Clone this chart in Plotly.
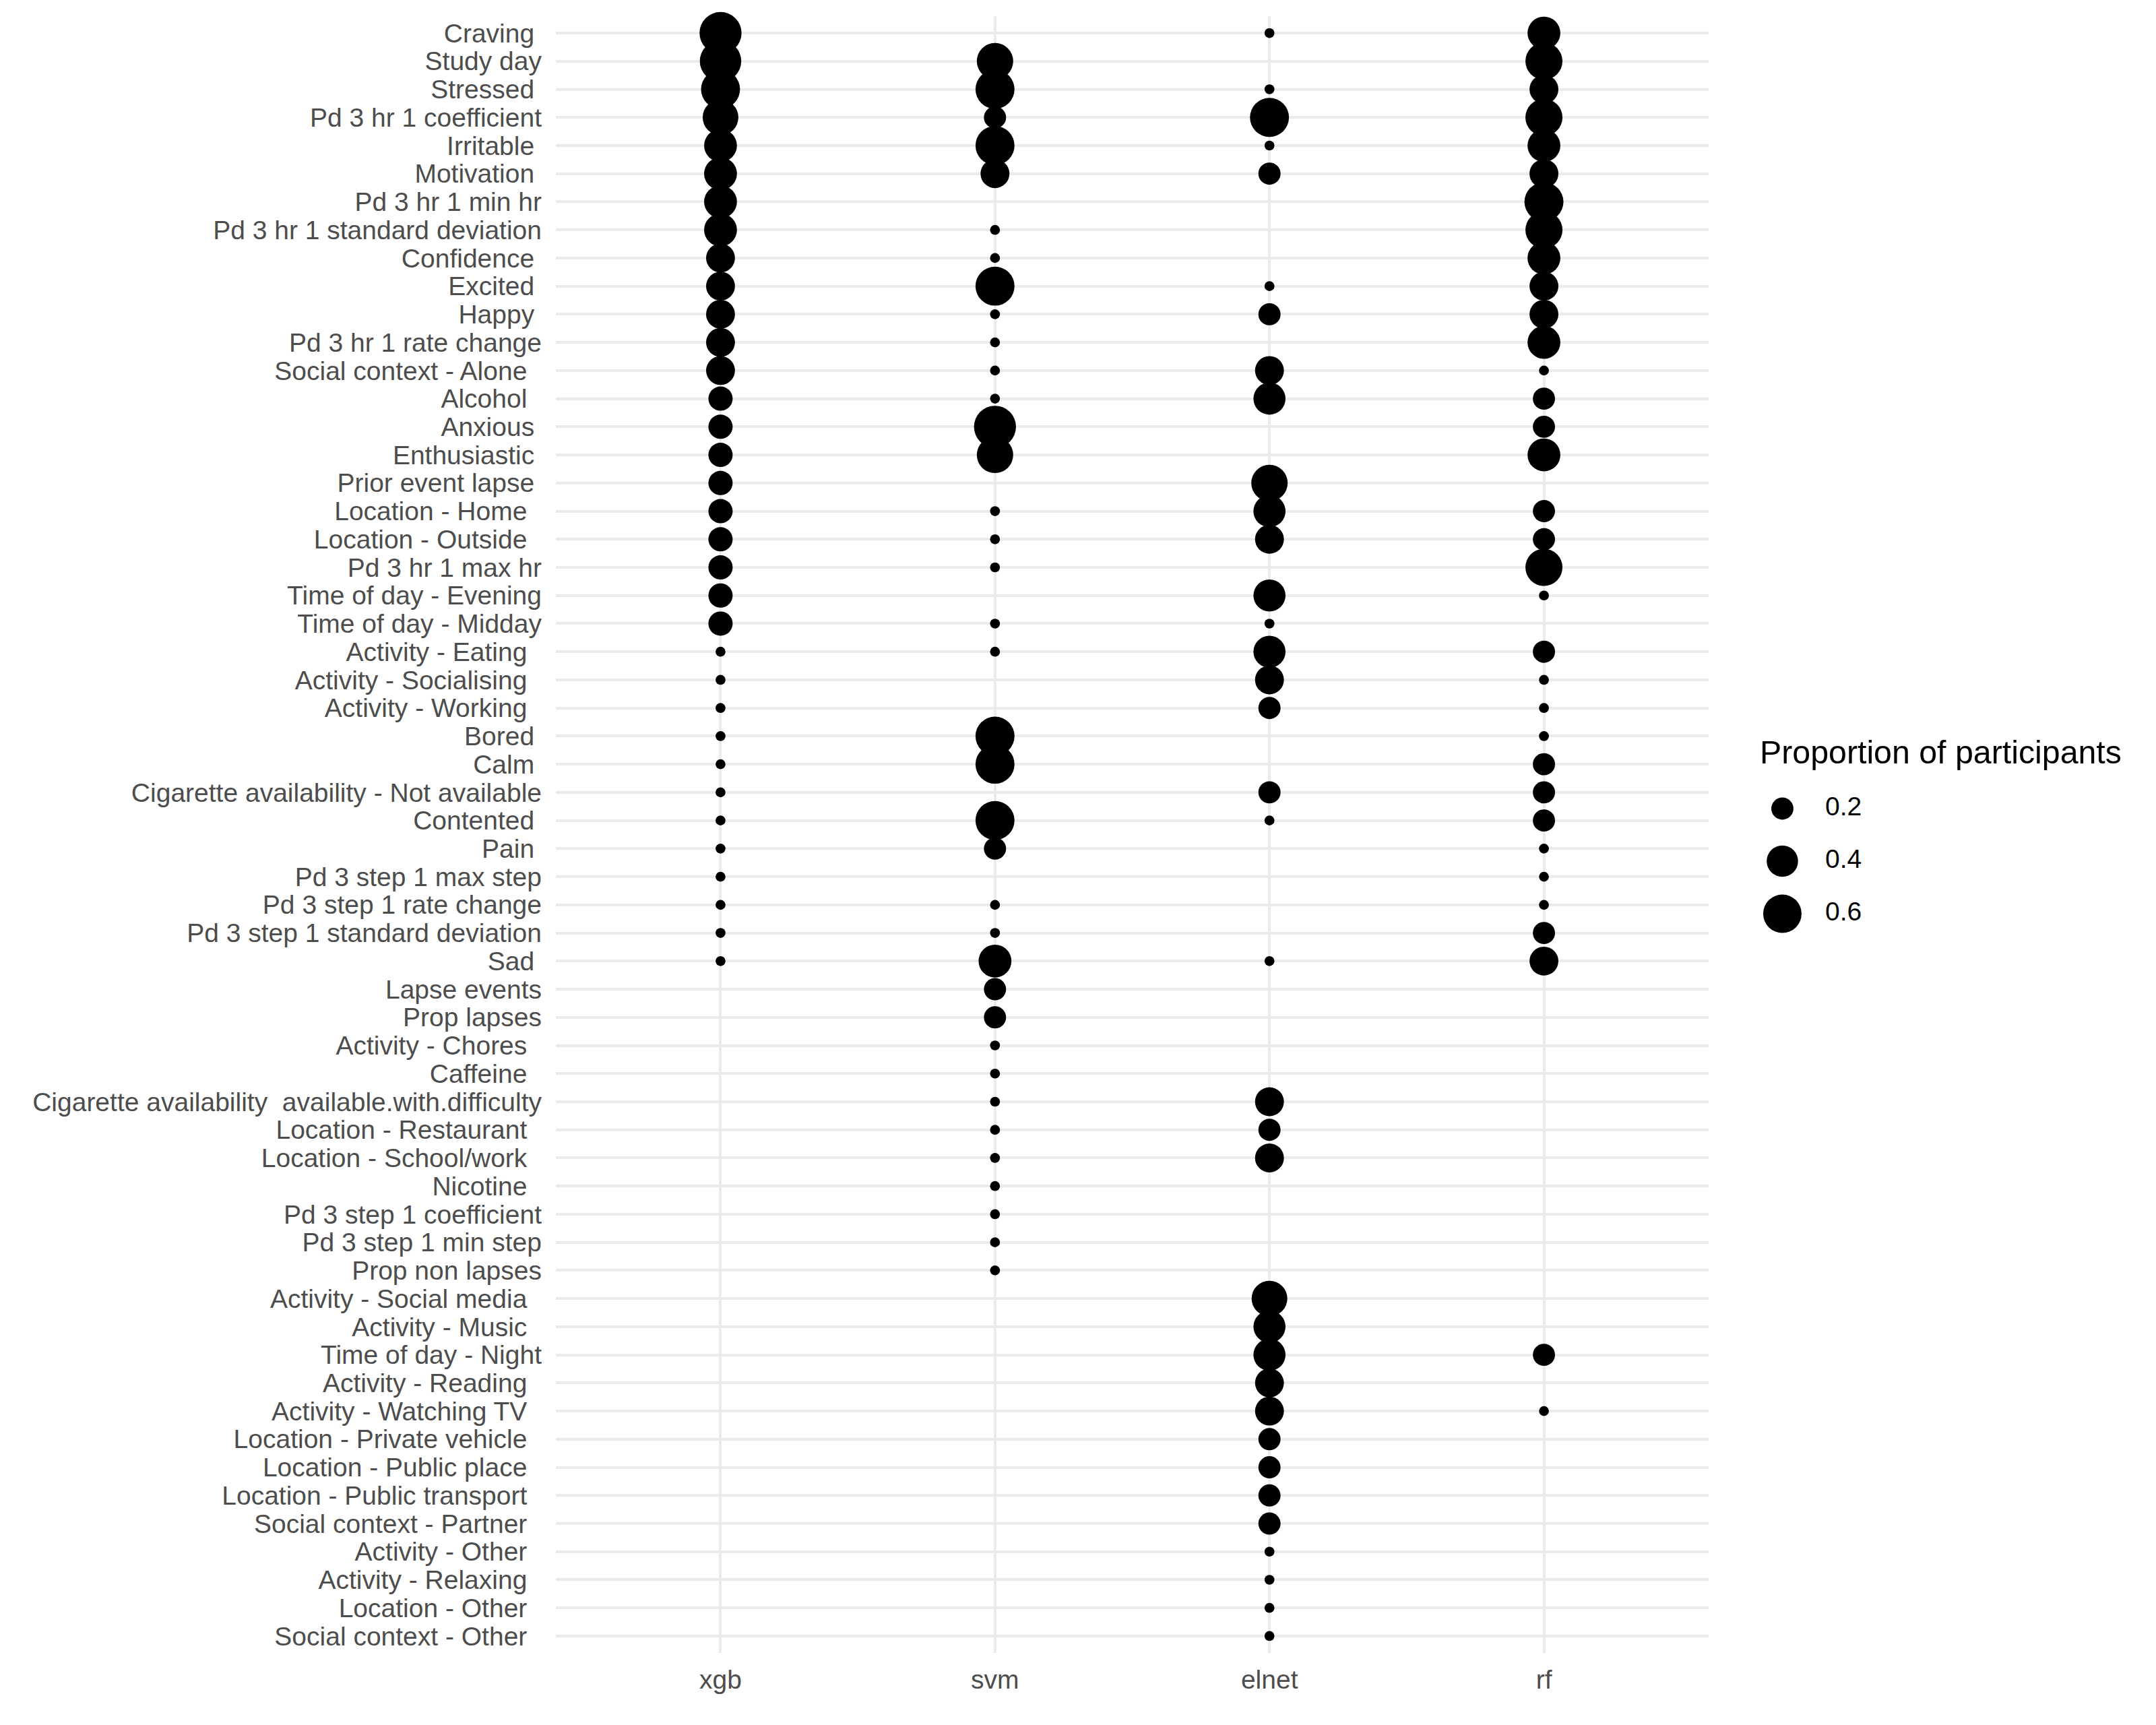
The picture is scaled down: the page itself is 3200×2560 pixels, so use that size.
import math
import plotly.graph_objects as go

# ---------------- data ----------------
features = [
    "Craving ", "Study day", "Stressed ", "Pd 3 hr 1 coefficient", "Irritable ", "Motivation ",
    "Pd 3 hr 1 min hr", "Pd 3 hr 1 standard deviation", "Confidence ", "Excited ", "Happy ",
    "Pd 3 hr 1 rate change", "Social context - Alone  ", "Alcohol  ", "Anxious ", "Enthusiastic ",
    "Prior event lapse ", "Location - Home  ", "Location - Outside  ", "Pd 3 hr 1 max hr",
    "Time of day - Evening", "Time of day - Midday", "Activity - Eating  ", "Activity - Socialising  ",
    "Activity - Working  ", "Bored ", "Calm ", "Cigarette availability - Not available", "Contented ",
    "Pain ", "Pd 3 step 1 max step", "Pd 3 step 1 rate change", "Pd 3 step 1 standard deviation",
    "Sad ", "Lapse events", "Prop lapses", "Activity - Chores  ", "Caffeine  ",
    "Cigarette availability  available.with.difficulty", "Location - Restaurant  ",
    "Location - School/work  ", "Nicotine  ", "Pd 3 step 1 coefficient", "Pd 3 step 1 min step",
    "Prop non lapses", "Activity - Social media  ", "Activity - Music  ", "Time of day - Night",
    "Activity - Reading  ", "Activity - Watching TV  ", "Location - Private vehicle  ",
    "Location - Public place  ", "Location - Public transport  ", "Social context - Partner  ",
    "Activity - Other  ", "Activity - Relaxing  ", "Location - Other  ", "Social context - Other  ",
]

models = ["xgb", "svm", "elnet", "rf"]

N = None
xgb = [0.72, 0.70, 0.62, 0.52, 0.44, 0.44, 0.44, 0.44, 0.34, 0.34, 0.34, 0.34, 0.34, 0.24, 0.24, 0.24,
       0.24, 0.24, 0.24, 0.24, 0.24, 0.24, 0.04, 0.04, 0.04, 0.04, 0.04, 0.04, 0.04, 0.04, 0.04, 0.04,
       0.04, 0.04, N, N, N, N, N, N, N, N, N, N, N, N, N, N, N, N, N, N, N, N, N, N, N, N]
svm = [N, 0.54, 0.62, 0.20, 0.62, 0.34, N, 0.04, 0.04, 0.62, 0.04, 0.04, 0.04, 0.04, 0.72, 0.54,
       N, 0.04, 0.04, 0.04, N, 0.04, 0.04, N, N, 0.62, 0.62, N, 0.62, 0.20, N, 0.04,
       0.04, 0.44, 0.20, 0.20, 0.04, 0.04, 0.04, 0.04, 0.04, 0.04, 0.04, 0.04, 0.04, N, N, N,
       N, N, N, N, N, N, N, N, N, N]
elnet = [0.04, N, 0.04, 0.62, 0.04, 0.20, N, N, N, 0.04, 0.20, N, 0.34, 0.42, N, N,
         0.54, 0.42, 0.34, N, 0.42, 0.04, 0.42, 0.34, 0.20, N, N, 0.20, 0.04, N, N, N,
         N, 0.04, N, N, N, N, 0.34, 0.20, 0.34, N, N, N, N, 0.52, 0.42, 0.42,
         0.34, 0.34, 0.20, 0.20, 0.20, 0.20, 0.04, 0.04, 0.04, 0.04]
rf = [0.44, 0.56, 0.34, 0.56, 0.44, 0.34, 0.62, 0.56, 0.44, 0.34, 0.34, 0.44, 0.04, 0.20, 0.20, 0.44,
      N, 0.20, 0.20, 0.56, 0.04, N, 0.20, 0.04, 0.04, 0.04, 0.20, 0.20, 0.20, 0.04, 0.04, 0.04,
      0.20, 0.34, N, N, N, N, N, N, N, N, N, N, N, N, N, 0.20,
      N, 0.04, N, N, N, N, N, N, N, N]

legend_breaks = [0.2, 0.4, 0.6]
legend_labels = ["0.2", "0.4", "0.6"]
legend_title = "Proportion of participants"

# ---------------- styling ----------------
W, H = 3200, 2560
ML, MR, MT, MB = 825, 40, 24, 107
PW = W - ML - MR
PH = H - MT - MB
PANEL_W = 1711
FONT = "Liberation Sans, Arial, sans-serif"
TICK_COLOR = "#4D4D4D"
GRID = "#EBEBEB"
TXT = 39


def diam(v):
    return 73.5 * math.sqrt(v)


def nb_label(s):
    # keep trailing / repeated spaces visible in SVG
    stripped = s.rstrip(" ")
    trail = len(s) - len(stripped)
    return stripped.replace("  ", "\u00a0\u00a0") + "\u00a0" * trail


series = {"xgb": xgb, "svm": svm, "elnet": elnet, "rf": rf}

fig = go.Figure()
for m in models:
    vals = series[m]
    ys = [f for f, v in zip(features, vals) if v is not None]
    vs = [v for v in vals if v is not None]
    fig.add_trace(go.Scatter(
        x=[m] * len(ys), y=ys, mode="markers",
        marker=dict(size=[diam(v) for v in vs], color="black", line=dict(width=0), opacity=1),
        showlegend=False, hoverinfo="x+y+text", text=[str(v) for v in vs], cliponaxis=False,
    ))

# legend as a small separate axis
fig.add_trace(go.Scatter(
    x=[0] * len(legend_breaks), y=list(range(len(legend_breaks))), mode="markers",
    marker=dict(size=[diam(v) for v in legend_breaks], color="black", line=dict(width=0), opacity=1),
    xaxis="x2", yaxis="y2", showlegend=False, hoverinfo="skip", cliponaxis=False,
))
fig.add_trace(go.Scatter(
    x=[1.4] * len(legend_labels), y=list(range(len(legend_labels))), mode="text",
    text=legend_labels, textposition="middle right",
    textfont=dict(family=FONT, size=TXT, color="black"),
    xaxis="x2", yaxis="y2", showlegend=False, hoverinfo="skip", cliponaxis=False,
))

n = len(features)
fig.update_layout(
    width=W, height=H,
    margin=dict(l=ML, r=MR, t=MT, b=MB, autoexpand=False),
    paper_bgcolor="white", plot_bgcolor="white",
    font=dict(family=FONT, color=TICK_COLOR, size=TXT),
    xaxis=dict(
        domain=[0, PANEL_W / PW], type="category", categoryorder="array", categoryarray=models,
        range=[-0.6, len(models) - 0.4], showgrid=True, gridcolor=GRID, gridwidth=4,
        zeroline=False, showline=False, ticks="", tickfont=dict(size=TXT, color=TICK_COLOR),
        ticklabelstandoff=13, fixedrange=True,
    ),
    yaxis=dict(
        type="category", categoryorder="array", categoryarray=features,
        tickmode="array", tickvals=features, ticktext=[nb_label(f) for f in features],
        range=[n - 0.4, -0.6], showgrid=True, gridcolor=GRID, gridwidth=4,
        zeroline=False, showline=False, ticks="", tickfont=dict(size=TXT, color=TICK_COLOR),
        ticklabelstandoff=20, fixedrange=True,
    ),
    xaxis2=dict(
        domain=[(2600 - ML) / PW, (3100 - ML) / PW], anchor="y2",
        range=[-1.0, 10.0], visible=False, fixedrange=True,
    ),
    yaxis2=dict(
        domain=[(H - MB - 1434) / PH, (H - MB - 1122) / PH], anchor="x2",
        range=[3, -1], visible=False, fixedrange=True,
    ),
    annotations=[dict(
        text=legend_title, xref="paper", yref="paper",
        x=(2610 - ML) / PW, y=(H - MB - 1116) / PH, xanchor="left", yanchor="middle",
        showarrow=False, font=dict(family=FONT, size=48.3, color="black"),
    )],
)

fig.write_html("out.html")
